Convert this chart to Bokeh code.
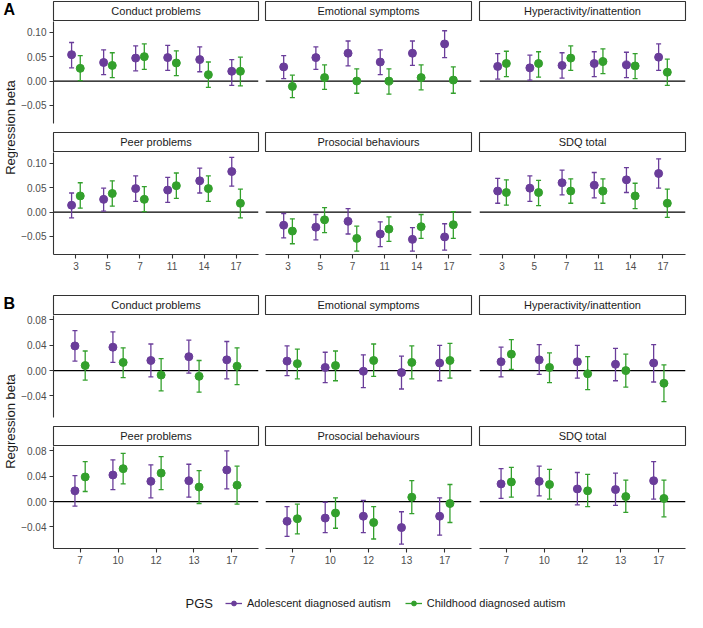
import math
from bokeh.plotting import figure
from bokeh.layouts import row, column
from bokeh.models import (ColumnDataSource, FactorRange, Range1d, FixedTicker,
                          Label, Legend, LegendItem, Span)
from bokeh.transform import dodge
from bokeh.embed import file_html
from bokeh.resources import INLINE

FONT = "Liberation Sans"
PURPLE = "#6A3D9A"
GREEN = "#33A02C"
AXIS_COL = "#333333"
TICK_TXT = "#4D4D4D"

# ---------------- data ----------------
groups = ["Adolescent diagnosed autism", "Childhood diagnosed autism"]
outcomes = ["Conduct problems", "Emotional symptoms", "Hyperactivity/inattention",
            "Peer problems", "Prosocial behaviours", "SDQ total"]

# Panel A (ages 3-17)
ages_A = ["3", "5", "7", "11", "14", "17"]
yticks_A = [-0.05, 0.0, 0.05, 0.10]
ylabels_A = ["\u22120.05", "0.00", "0.05", "0.10"]

A_conduct_adol = [0.054, 0.038, 0.047, 0.048, 0.044, 0.020]
A_conduct_adol_lo = [0.027, 0.013, 0.021, 0.022, 0.019, -0.009]
A_conduct_adol_hi = [0.079, 0.064, 0.072, 0.073, 0.070, 0.044]
A_conduct_child = [0.026, 0.032, 0.050, 0.037, 0.013, 0.020]
A_conduct_child_lo = [0.001, 0.007, 0.024, 0.011, -0.013, -0.010]
A_conduct_child_hi = [0.052, 0.058, 0.076, 0.062, 0.039, 0.049]

A_emotional_adol = [0.029, 0.048, 0.057, 0.039, 0.057, 0.076]
A_emotional_adol_lo = [0.005, 0.024, 0.031, 0.013, 0.032, 0.048]
A_emotional_adol_hi = [0.052, 0.070, 0.082, 0.064, 0.082, 0.103]
A_emotional_child = [-0.011, 0.007, 0.000, 0.000, 0.007, 0.002]
A_emotional_child_lo = [-0.034, -0.017, -0.025, -0.027, -0.018, -0.025]
A_emotional_child_hi = [0.012, 0.033, 0.025, 0.025, 0.033, 0.029]

A_hyper_adol = [0.030, 0.027, 0.032, 0.036, 0.033, 0.049]
A_hyper_adol_lo = [0.004, 0.002, 0.006, 0.009, 0.007, 0.022]
A_hyper_adol_hi = [0.056, 0.053, 0.058, 0.060, 0.059, 0.076]
A_hyper_child = [0.036, 0.036, 0.047, 0.040, 0.031, 0.018]
A_hyper_child_lo = [0.009, 0.008, 0.022, 0.015, 0.005, -0.009]
A_hyper_child_hi = [0.061, 0.060, 0.072, 0.066, 0.056, 0.045]

A_peer_adol = [0.014, 0.026, 0.048, 0.045, 0.064, 0.083]
A_peer_adol_lo = [-0.012, 0.002, 0.022, 0.020, 0.039, 0.053]
A_peer_adol_hi = [0.039, 0.049, 0.074, 0.071, 0.090, 0.112]
A_peer_child = [0.033, 0.038, 0.026, 0.054, 0.048, 0.018]
A_peer_child_lo = [0.008, 0.012, 0.001, 0.028, 0.022, -0.012]
A_peer_child_hi = [0.060, 0.064, 0.052, 0.080, 0.074, 0.047]

A_prosocial_adol = [-0.027, -0.031, -0.019, -0.045, -0.056, -0.051]
A_prosocial_adol_lo = [-0.053, -0.057, -0.045, -0.071, -0.080, -0.078]
A_prosocial_adol_hi = [-0.003, -0.005, 0.007, -0.020, -0.032, -0.024]
A_prosocial_child = [-0.039, -0.016, -0.054, -0.035, -0.030, -0.026]
A_prosocial_child_lo = [-0.065, -0.042, -0.080, -0.060, -0.054, -0.054]
A_prosocial_child_hi = [-0.014, 0.009, -0.029, -0.010, -0.005, 0.001]

A_sdq_adol = [0.043, 0.049, 0.060, 0.055, 0.066, 0.079]
A_sdq_adol_lo = [0.018, 0.022, 0.035, 0.029, 0.040, 0.049]
A_sdq_adol_hi = [0.069, 0.074, 0.086, 0.081, 0.091, 0.109]
A_sdq_child = [0.040, 0.040, 0.043, 0.043, 0.033, 0.018]
A_sdq_child_lo = [0.014, 0.013, 0.018, 0.018, 0.007, -0.011]
A_sdq_child_hi = [0.066, 0.065, 0.068, 0.068, 0.059, 0.047]

# Panel B (ages 7-17)
ages_B = ["7", "10", "12", "13", "17"]
yticks_B = [-0.04, 0.0, 0.04, 0.08]
ylabels_B = ["\u22120.04", "0.00", "0.04", "0.08"]

B_conduct_adol = [0.039, 0.037, 0.016, 0.022, 0.017]
B_conduct_adol_lo = [0.015, 0.013, -0.010, -0.004, -0.013]
B_conduct_adol_hi = [0.063, 0.061, 0.042, 0.048, 0.046]
B_conduct_child = [0.008, 0.013, -0.007, -0.009, 0.007]
B_conduct_child_lo = [-0.015, -0.011, -0.032, -0.034, -0.022]
B_conduct_child_hi = [0.031, 0.036, 0.019, 0.016, 0.036]

B_emotional_adol = [0.015, 0.005, -0.001, -0.003, 0.012]
B_emotional_adol_lo = [-0.008, -0.019, -0.027, -0.029, -0.016]
B_emotional_adol_hi = [0.039, 0.029, 0.025, 0.023, 0.040]
B_emotional_child = [0.011, 0.008, 0.016, 0.013, 0.016]
B_emotional_child_lo = [-0.013, -0.016, -0.009, -0.013, -0.012]
B_emotional_child_hi = [0.034, 0.031, 0.042, 0.039, 0.043]

B_hyper_adol = [0.014, 0.017, 0.014, 0.010, 0.012]
B_hyper_adol_lo = [-0.010, -0.006, -0.012, -0.016, -0.018]
B_hyper_adol_hi = [0.037, 0.041, 0.040, 0.035, 0.041]
B_hyper_child = [0.026, 0.005, -0.005, 0.000, -0.020]
B_hyper_child_lo = [0.002, -0.019, -0.030, -0.026, -0.049]
B_hyper_child_hi = [0.049, 0.028, 0.022, 0.026, 0.009]

B_peer_adol = [0.017, 0.042, 0.032, 0.033, 0.050]
B_peer_adol_lo = [-0.007, 0.019, 0.006, 0.007, 0.020]
B_peer_adol_hi = [0.041, 0.066, 0.058, 0.059, 0.080]
B_peer_child = [0.039, 0.052, 0.045, 0.023, 0.026]
B_peer_child_lo = [0.016, 0.028, 0.019, -0.003, -0.004]
B_peer_child_hi = [0.063, 0.076, 0.071, 0.049, 0.056]

B_prosocial_adol = [-0.031, -0.026, -0.023, -0.041, -0.023]
B_prosocial_adol_lo = [-0.055, -0.049, -0.049, -0.067, -0.053]
B_prosocial_adol_hi = [-0.008, -0.001, 0.002, -0.016, 0.006]
B_prosocial_child = [-0.027, -0.018, -0.033, 0.007, -0.003]
B_prosocial_child_lo = [-0.051, -0.042, -0.059, -0.019, -0.033]
B_prosocial_child_hi = [-0.004, 0.006, -0.008, 0.033, 0.027]

B_sdq_adol = [0.028, 0.032, 0.020, 0.019, 0.033]
B_sdq_adol_lo = [0.005, 0.009, -0.005, -0.006, 0.004]
B_sdq_adol_hi = [0.052, 0.056, 0.046, 0.045, 0.063]
B_sdq_child = [0.031, 0.027, 0.017, 0.008, 0.005]
B_sdq_child_lo = [0.007, 0.004, -0.008, -0.017, -0.024]
B_sdq_child_hi = [0.054, 0.051, 0.043, 0.034, 0.034]

A_series = [
    ((A_conduct_adol, A_conduct_adol_lo, A_conduct_adol_hi), (A_conduct_child, A_conduct_child_lo, A_conduct_child_hi)),
    ((A_emotional_adol, A_emotional_adol_lo, A_emotional_adol_hi), (A_emotional_child, A_emotional_child_lo, A_emotional_child_hi)),
    ((A_hyper_adol, A_hyper_adol_lo, A_hyper_adol_hi), (A_hyper_child, A_hyper_child_lo, A_hyper_child_hi)),
    ((A_peer_adol, A_peer_adol_lo, A_peer_adol_hi), (A_peer_child, A_peer_child_lo, A_peer_child_hi)),
    ((A_prosocial_adol, A_prosocial_adol_lo, A_prosocial_adol_hi), (A_prosocial_child, A_prosocial_child_lo, A_prosocial_child_hi)),
    ((A_sdq_adol, A_sdq_adol_lo, A_sdq_adol_hi), (A_sdq_child, A_sdq_child_lo, A_sdq_child_hi)),
]
B_series = [
    ((B_conduct_adol, B_conduct_adol_lo, B_conduct_adol_hi), (B_conduct_child, B_conduct_child_lo, B_conduct_child_hi)),
    ((B_emotional_adol, B_emotional_adol_lo, B_emotional_adol_hi), (B_emotional_child, B_emotional_child_lo, B_emotional_child_hi)),
    ((B_hyper_adol, B_hyper_adol_lo, B_hyper_adol_hi), (B_hyper_child, B_hyper_child_lo, B_hyper_child_hi)),
    ((B_peer_adol, B_peer_adol_lo, B_peer_adol_hi), (B_peer_child, B_peer_child_lo, B_peer_child_hi)),
    ((B_prosocial_adol, B_prosocial_adol_lo, B_prosocial_adol_hi), (B_prosocial_child, B_prosocial_child_lo, B_prosocial_child_hi)),
    ((B_sdq_adol, B_sdq_adol_lo, B_sdq_adol_hi), (B_sdq_child, B_sdq_child_lo, B_sdq_child_hi)),
]

# ---------------- layout constants ----------------
FW = 206                       # frame width of each facet
FH = 102                       # frame height of each facet
STRIP_H = 21
SIDE_W = 18
COL_BORDERS = [(34, 3), (4, 4), (4, 2)]
DODGE = 0.135
YR_A = (-0.087, 0.122)
YR_B = (-0.074, 0.087)


def style_axis(ax):
    ax.axis_line_color = AXIS_COL
    ax.axis_line_width = 1.1
    ax.major_tick_line_color = AXIS_COL
    ax.major_tick_line_width = 1.1
    ax.major_tick_out = 4
    ax.major_tick_in = 0
    ax.minor_tick_out = 0
    ax.minor_tick_in = 0
    ax.major_label_text_font = FONT
    ax.major_label_text_font_size = "10px"
    ax.major_label_text_color = TICK_TXT


def make_strip(text, col):
    mbl, mbr = COL_BORDERS[col]
    s = figure(width=mbl + FW + mbr, height=STRIP_H, x_range=Range1d(0, 1), y_range=Range1d(0, 1),
               x_axis_location=None, y_axis_location=None, toolbar_location=None,
               output_backend="svg", min_border_left=mbl, min_border_right=mbr,
               min_border_top=1, min_border_bottom=1,
               outline_line_color=AXIS_COL, outline_line_width=1.1)
    s.grid.visible = False
    s.add_layout(Label(x=0.5, y=0.5, text=text, text_align="center", text_baseline="middle",
                       text_font=FONT, text_font_size="11px", text_color="#1A1A1A"))
    return s


def make_panel(ages, yr, yticks, ylabels, series, col, bottom_border, show_x):
    mbl, mbr = COL_BORDERS[col]
    p = figure(width=mbl + FW + mbr, height=FH + bottom_border,
               x_range=FactorRange(factors=ages, range_padding=0.2, range_padding_units="absolute"),
               y_range=Range1d(yr[0], yr[1]),
               x_axis_location="below" if show_x else None,
               y_axis_location="left" if col == 0 else None,
               toolbar_location=None, output_backend="svg",
               min_border_left=mbl, min_border_right=mbr, min_border_top=0,
               min_border_bottom=bottom_border, outline_line_color=None)
    p.grid.visible = False
    p.add_layout(Span(location=0, dimension="width", line_color="black", line_width=1.2, level="underlay"))
    if col == 0:
        ya = p.yaxis[0]
        style_axis(ya)
        ya.ticker = FixedTicker(ticks=yticks)
        ya.major_label_overrides = dict(zip(yticks, ylabels))
        ya.major_label_standoff = 3
    if show_x:
        xa = p.xaxis[0]
        style_axis(xa)
        xa.major_label_standoff = 3
    for (est, lo, hi), color, off in zip(series, [PURPLE, GREEN], [-DODGE, DODGE]):
        src = ColumnDataSource(dict(age=ages, est=est, lo=lo, hi=hi))
        xd = dodge("age", off, range=p.x_range)
        p.segment(x0=xd, y0="lo", x1=xd, y1="hi", source=src, line_color=color, line_width=1.3)
        p.scatter(x=xd, y="lo", marker="dash", size=5, line_color=color, line_width=1.3, source=src)
        p.scatter(x=xd, y="hi", marker="dash", size=5, line_color=color, line_width=1.3, source=src)
        p.scatter(x=xd, y="est", marker="circle", size=8, fill_color=color, line_color=color, source=src)
    return p


def make_side(letter, height, label_y):
    f = figure(width=SIDE_W, height=height, x_range=Range1d(0, SIDE_W), y_range=Range1d(height, 0),
               x_axis_location=None, y_axis_location=None, toolbar_location=None,
               output_backend="svg", min_border=0, outline_line_color=None)
    f.grid.visible = False
    f.add_layout(Label(x=3, y=0, text=letter, text_align="left", text_baseline="top",
                       text_font=FONT, text_font_size="16px", text_font_style="bold", text_color="black"))
    f.add_layout(Label(x=10, y=label_y, text="Regression beta", angle=math.pi / 2,
                       text_align="center", text_baseline="middle",
                       text_font=FONT, text_font_size="13px", text_color="#1A1A1A"))
    return f


def make_section(letter, ages, yr, yticks, ylabels, series, last_border):
    cols = []
    for c in range(3):
        top_i, bot_i = c, c + 3
        cols.append(column(
            make_strip(outcomes[top_i], c),
            make_panel(ages, yr, yticks, ylabels, series[top_i], c, 8, False),
            make_strip(outcomes[bot_i], c),
            make_panel(ages, yr, yticks, ylabels, series[bot_i], c, last_border, True),
            spacing=0))
    h = STRIP_H * 2 + FH * 2 + 8 + last_border
    gap_center = STRIP_H + FH + 4
    return row(make_side(letter, h, gap_center), *cols, spacing=0)


secA = make_section("A", ages_A, YR_A, yticks_A, ylabels_A, A_series, 40)
secB = make_section("B", ages_B, YR_B, yticks_B, ylabels_B, B_series, 20)

# ---------------- legend ----------------
LW, LH = 687, 44
NAN = float("nan")
lg = figure(width=LW, height=LH, x_range=Range1d(0, LW), y_range=Range1d(LH, 0),
            x_axis_location=None, y_axis_location=None, toolbar_location=None,
            output_backend="svg", min_border=0, outline_line_color=None)
lg.grid.visible = False
items = []
for name, color in zip(groups, [PURPLE, GREEN]):
    r1 = lg.line(x=[NAN, NAN], y=[NAN, NAN], line_color=color, line_width=1.3)
    r2 = lg.scatter(x=[NAN], y=[NAN], marker="circle", size=8, fill_color=color, line_color=color)
    items.append(LegendItem(label=name, renderers=[r1, r2]))
leg = Legend(items=items, orientation="horizontal", location=(225, 3),
             glyph_width=17, glyph_height=12, label_standoff=5, spacing=14,
             padding=0, margin=0, border_line_color=None, background_fill_alpha=0,
             label_text_font=FONT, label_text_font_size="11px", label_text_color="#1A1A1A",
             label_height=12)
lg.add_layout(leg)
lg.add_layout(Label(x=185, y=35, text="PGS", text_align="left", text_baseline="middle",
                    text_font=FONT, text_font_size="13px", text_color="#1A1A1A"))

p = column(secA, secB, lg, spacing=0)

open("out.html", "w").write(file_html(p, INLINE))
